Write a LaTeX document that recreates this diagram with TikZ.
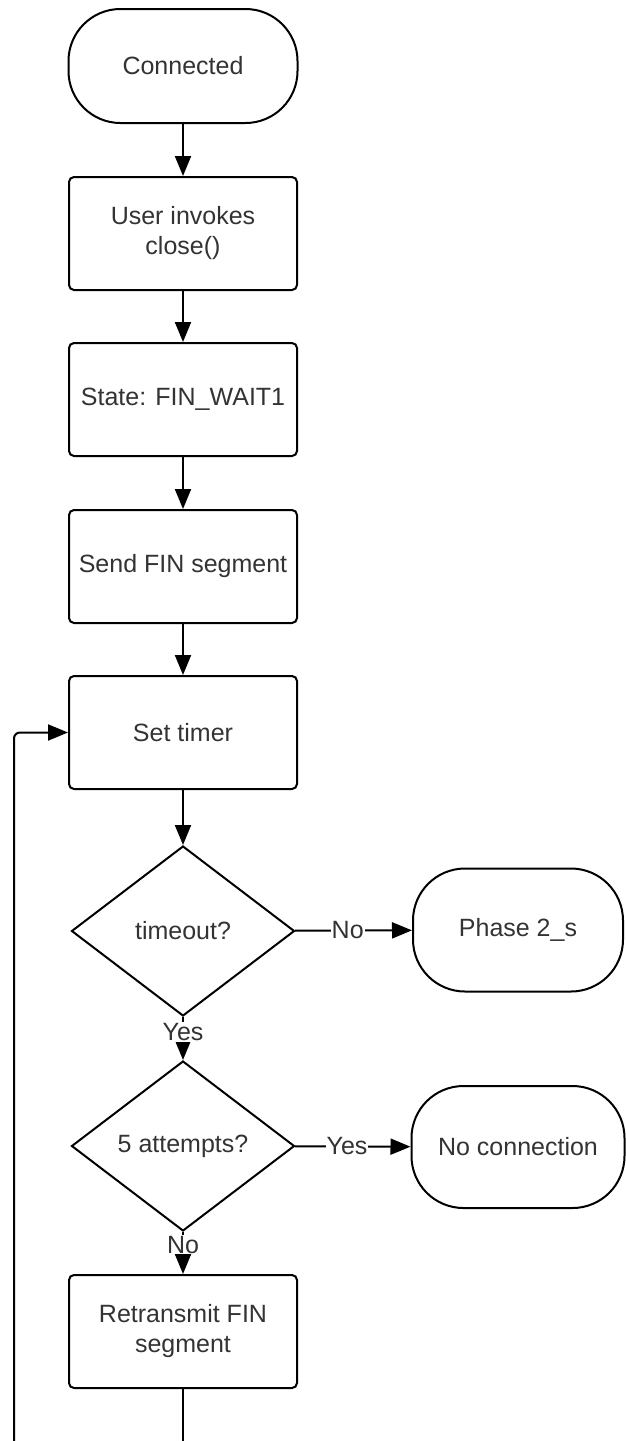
\documentclass[tikz,border=0pt]{standalone}
\usepackage{fontspec}
\setmainfont{Liberation Sans}
\usepackage{xcolor}
\usepackage{tikz}
\usetikzlibrary{shapes.geometric, arrows.meta, positioning}

\begin{document}
\begin{tikzpicture}[x=1pt, y=-1pt, line width=2pt,
  font=\fontsize{25}{30}\selectfont,
  term/.style={draw, rounded corners=52pt, minimum width=229pt, minimum height=114pt, text=black!80},
  proc/.style={draw, rounded corners=5pt, minimum width=228pt, minimum height=113pt, align=center, text=black!80},
  dec/.style={draw, diamond, minimum width=223pt, minimum height=170pt, inner sep=0pt, text=black!80},
  flow/.style={-{Triangle[length=20pt,width=16pt]}},
  lbl/.style={fill=white, inner sep=1pt, text=black!80}]
\useasboundingbox (0,0) rectangle (626,1441);

% Main column
\node[term] (conn) at (183,66) {Connected};
\node[proc] (user) at (183,233.5) {User invokes\\close()};
\node[proc] (state) at (183,399.5) {State: FIN\_WAIT1};
\node[proc] (send) at (183,566.5) {Send FIN segment};
\node[proc] (timer) at (183,732.5) {Set timer};
\node[dec] (timeout) at (183,931) {timeout?};
\node[dec] (attempts) at (183,1146) {5 attempts?};
\node[proc] (retrans) at (183,1331.5) {Retransmit FIN\\segment};

% Exits on the right
\node[term, minimum width=210pt, minimum height=123pt] (phase) at (518,930) {Phase 2\_s};
\node[term, minimum width=213pt, minimum height=122pt] (nocon) at (518,1147) {No connection};

\draw[flow] (conn) -- (user);
\draw[flow] (user) -- (state);
\draw[flow] (state) -- (send);
\draw[flow] (send) -- (timer);
\draw[flow] (timer) -- (timeout);
\draw[flow] (timeout) -- node[lbl, pos=0.45] {No} (phase);
\draw[flow] (timeout) -- node[lbl, pos=0.35] {Yes} (attempts);
\draw[flow] (attempts) -- node[lbl, pos=0.45] {Yes} (nocon);
\draw[flow] (attempts) -- node[lbl, pos=0.3] {No} (retrans);

% Loop back (cut at the bottom edge)
\coordinate (loopend) at (183,1441);
\coordinate (loopstart) at (14,1441);
\draw (retrans) -- (loopend);
\draw[flow, rounded corners=6pt] (loopstart) |- (timer.west);
\end{tikzpicture}
\end{document}
